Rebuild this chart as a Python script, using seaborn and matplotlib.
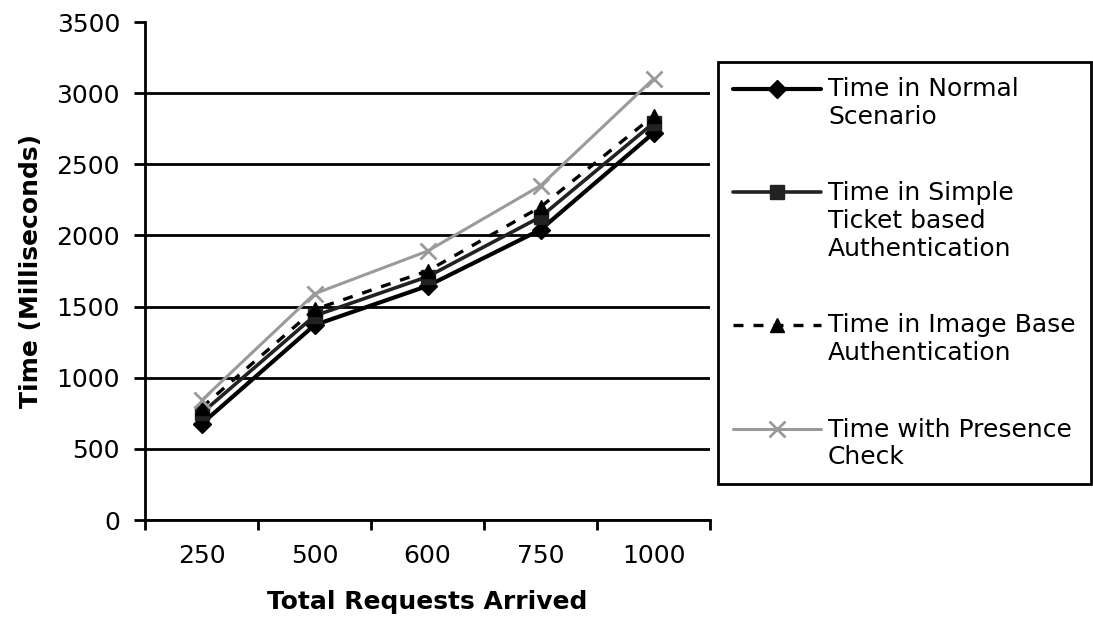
import numpy as np
import pandas as pd
import matplotlib
matplotlib.use("Agg")
import matplotlib.pyplot as plt
import seaborn as sns
from matplotlib.legend_handler import HandlerLine2D
from matplotlib.transforms import Affine2D

categories = ["250", "500", "600", "750", "1000"]
normal = [675, 1370, 1645, 2040, 2720]
simple_ticket = [750, 1435, 1710, 2130, 2790]
image_base = [790, 1480, 1750, 2200, 2840]
presence = [840, 1590, 1890, 2350, 3100]
series_names = [
    "Time in Normal\nScenario",
    "Time in Simple\nTicket based\nAuthentication",
    "Time in Image Base\nAuthentication",
    "Time with Presence\nCheck",
]
y_ticks = [0, 500, 1000, 1500, 2000, 2500, 3000, 3500]

sns.set_theme(style="white")
plt.rcParams["font.family"] = ["DejaVu Sans"]
plt.rcParams["text.color"] = "black"
plt.rcParams["axes.labelcolor"] = "black"

fig = plt.figure(figsize=(10.93, 6.25), dpi=100)
ax = fig.add_axes([0.1327, 0.168, 0.6496 - 0.1327, 0.9648 - 0.168])

pos = np.arange(len(categories))
styles = [
    dict(data=normal, color="black", lw=3.0, ls="-", marker="D", ms=9),
    dict(data=simple_ticket, color="#222222", lw=2.6, ls="-", marker="s", ms=10),
    dict(data=image_base, color="black", lw=2.4, ls=(0, (3, 3)), marker="^", ms=10),
    dict(data=presence, color="#9a9a9a", lw=2.2, ls="-", marker="x", ms=11),
]
for name, st in zip(series_names, styles):
    df = pd.DataFrame({"x": pos, "y": st["data"]})
    sns.lineplot(data=df, x="x", y="y", ax=ax, color=st["color"], linewidth=st["lw"],
                 linestyle=st["ls"], marker=st["marker"], markersize=st["ms"],
                 markeredgecolor=st["color"], markeredgewidth=2 if st["marker"] == "x" else 1,
                 label=name, zorder=3)

ax.set_xlim(-0.5, len(categories) - 0.5)
ax.set_ylim(0, 3500)
ax.set_yticks(y_ticks)
ax.set_xticks(pos)
ax.set_xticklabels(categories)
ax.set_xticks(np.arange(-0.5, len(categories)), minor=True)
ax.tick_params(axis="x", which="major", length=0, pad=17, labelsize=18, colors="black")
ax.tick_params(axis="x", which="minor", length=7, width=2, direction="out", color="black", bottom=True)
ax.tick_params(axis="y", which="major", length=8, width=2, direction="out", color="black",
               pad=10, labelsize=18, left=True, labelcolor="black")

ax.yaxis.grid(True, color="black", linewidth=2)
ax.xaxis.grid(False)
gl = ax.get_ygridlines()
gl[-1].set_visible(False)
ax.set_axisbelow(True)

for s in ["top", "right"]:
    ax.spines[s].set_visible(False)
for s in ["left", "bottom"]:
    ax.spines[s].set_color("black")
    ax.spines[s].set_linewidth(2)

ax.set_xlabel("Total Requests Arrived", fontsize=18, fontweight="bold", labelpad=16, color="black")
ax.set_ylabel("Time (Milliseconds)", fontsize=18, fontweight="bold", labelpad=10, color="black")


class TopHandler(HandlerLine2D):
    def __init__(self, nlines, **kw):
        super().__init__(**kw)
        self.nlines = nlines

    def create_artists(self, legend, orig_handle, xdescent, ydescent, width, height, fontsize, trans):
        dy = (self.nlines - 1) / 2 * fontsize * 1.2
        trans = Affine2D().translate(0, dy) + trans
        return super().create_artists(legend, orig_handle, xdescent, ydescent, width, height, fontsize, trans)


handles, labels = ax.get_legend_handles_labels()
if ax.legend_:
    ax.legend_.remove()
legfs = 18
hmap = {h: TopHandler(l.count("\n") + 1) for h, l in zip(handles, labels)}
leg = fig.legend(handles, labels, loc="upper left", bbox_to_anchor=(0.657, 0.901),
                 bbox_transform=fig.transFigure, fontsize=legfs, frameon=True, fancybox=False,
                 edgecolor="black", framealpha=1, handlelength=3.5, handletextpad=0.3,
                 labelspacing=2.1, borderpad=0.6, borderaxespad=0, handler_map=hmap)
leg.get_frame().set_linewidth(2)
leg.get_frame().set_edgecolor("black")
for t in leg.get_texts():
    t.set_color("black")

fig.savefig("out.png", dpi=100, facecolor="white")
